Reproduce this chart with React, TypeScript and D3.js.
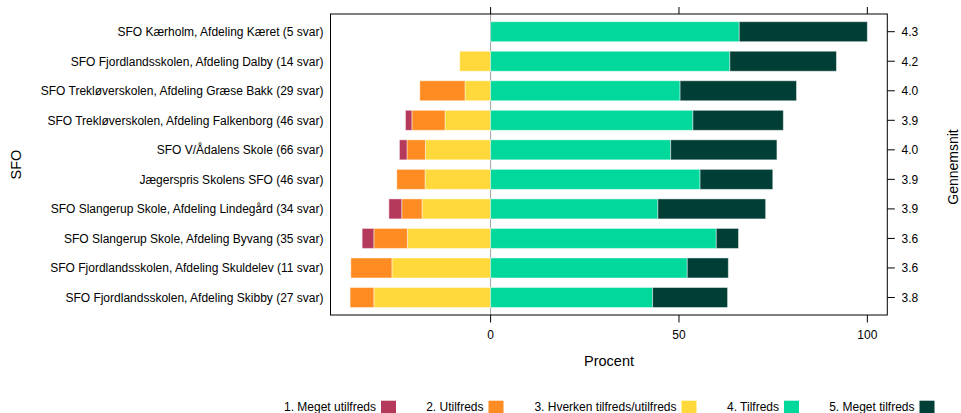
import React from "react";
import * as d3 from "d3";

const categories = [
  "SFO Kærholm, Afdeling Kæret (5 svar)",
  "SFO Fjordlandsskolen, Afdeling Dalby (14 svar)",
  "SFO Trekløverskolen, Afdeling Græse Bakk (29 svar)",
  "SFO Trekløverskolen, Afdeling Falkenborg (46 svar)",
  "SFO V/Ådalens Skole (66 svar)",
  "Jægerspris Skolens SFO (46 svar)",
  "SFO Slangerup Skole, Afdeling Lindegård (34 svar)",
  "SFO Slangerup Skole, Afdeling Byvang (35 svar)",
  "SFO Fjordlandsskolen, Afdeling Skuldelev (11 svar)",
  "SFO Fjordlandsskolen, Afdeling Skibby (27 svar)",
];

const megetUtilfreds = [0, 0, 0, 1.7, 2.0, 0, 3.4, 3.1, 0, 0];
const utilfreds = [0, 0, 12.0, 8.8, 4.9, 7.5, 5.4, 8.9, 10.9, 6.3];
const hverken = [0, 8.2, 6.8, 12.1, 17.3, 17.4, 18.2, 22.1, 26.2, 31.0];
const tilfreds = [66.0, 63.5, 50.3, 53.7, 47.8, 55.6, 44.4, 59.9, 52.2, 43.0];
const megetTilfreds = [34.0, 28.3, 30.9, 24.0, 28.2, 19.3, 28.6, 5.9, 10.9, 19.9];

const gennemsnit = ["4.3", "4.2", "4.0", "3.9", "4.0", "3.9", "3.9", "3.6", "3.6", "3.8"];

const levelLabels = [
  "1. Meget utilfreds",
  "2. Utilfreds",
  "3. Hverken tilfreds/utilfreds",
  "4. Tilfreds",
  "5. Meget tilfreds",
];
const levelColors = ["#B5395B", "#FF8C22", "#FFD93B", "#00D89C", "#003E36"];

const xTicks = [0, 50, 100];

const FONT = "'Liberation Sans', Arial, Helvetica, sans-serif";

export default function App() {
  const W = 961;
  const H = 413;
  const left = 330.5;
  const right = 887.3;
  const top = 14;
  const bottom = 315;

  const x = d3.scaleLinear().domain([-42.5, 105.3]).range([left, right]);
  const y = d3.scaleLinear().domain([0, categories.length - 1]).range([31.7, 297.5]);
  const barH = 20;

  const neg = [megetUtilfreds, utilfreds, hverken];
  const pos = [tilfreds, megetTilfreds];

  const bars: any[] = [];
  categories.forEach((_, i) => {
    // negative side: hverken closest to zero, then utilfreds, then meget utilfreds
    let acc = 0;
    for (let k = 2; k >= 0; k--) {
      const v = neg[k][i];
      if (v > 0) {
        bars.push({ i, k, x0: -(acc + v), x1: -acc });
      }
      acc += v;
    }
    acc = 0;
    for (let k = 0; k < 2; k++) {
      const v = pos[k][i];
      if (v > 0) {
        bars.push({ i, k: k + 3, x0: acc, x1: acc + v });
      }
      acc += v;
    }
  });

  const legendSquares = [381, 488.5, 681.5, 784, 919.5];

  return (
    <svg
      width={W}
      height={H}
      style={{ position: "absolute", left: 0, top: 0, background: "#fff" }}
      fontFamily={FONT}
    >
      <rect x={0} y={0} width={W} height={H} fill="#fff" />
      {/* zero reference line */}
      <line x1={x(0)} x2={x(0)} y1={top} y2={bottom} stroke="#A0A0A0" strokeWidth={1} />
      {/* bars */}
      {bars.map((b, j) => (
        <rect
          key={j}
          x={x(b.x0)}
          y={y(b.i) - barH / 2}
          width={x(b.x1) - x(b.x0)}
          height={barH}
          fill={levelColors[b.k]}
          stroke="rgba(255,255,255,0.45)"
          strokeWidth={1}
        />
      ))}
      {/* frame */}
      <rect x={left} y={top} width={right - left} height={bottom - top} fill="none" stroke="#000" strokeWidth={1} />
      {/* top & bottom ticks */}
      {xTicks.map((t) => (
        <g key={t}>
          <line x1={x(t)} x2={x(t)} y1={top} y2={top - 7} stroke="#000" />
          <line x1={x(t)} x2={x(t)} y1={bottom} y2={bottom + 7.5} stroke="#000" />
          <text x={x(t)} y={339.3} textAnchor="middle" fontSize={12} fill="#000">
            {t}
          </text>
        </g>
      ))}
      {/* left category labels */}
      {categories.map((c, i) => (
        <text key={c} x={323.5} y={y(i)} dy="0.36em" textAnchor="end" fontSize={12} fill="#000">
          {c}
        </text>
      ))}
      {/* right ticks and labels */}
      {gennemsnit.map((g, i) => (
        <g key={i}>
          <line x1={right} x2={right + 7.5} y1={y(i)} y2={y(i)} stroke="#000" />
          <text x={901.5} y={y(i)} dy="0.36em" fontSize={12} fill="#000">
            {g}
          </text>
        </g>
      ))}
      {/* axis titles */}
      <text x={609} y={365.5} textAnchor="middle" fontSize={14.5} fill="#000">
        Procent
      </text>
      <text
        transform={`translate(20.5,164.5) rotate(-90)`}
        textAnchor="middle"
        fontSize={14.5}
        fill="#000"
      >
        SFO
      </text>
      <text
        transform={`translate(958.3,167) rotate(-90)`}
        textAnchor="middle"
        fontSize={14}
        fill="#000"
      >
        Gennemsnit
      </text>
      {/* legend */}
      {levelLabels.map((l, k) => (
        <g key={l}>
          <text x={legendSquares[k] - 5} y={411} textAnchor="end" fontSize={12} fill="#000">
            {l}
          </text>
          <rect x={legendSquares[k]} y={400.7} width={15} height={15} fill={levelColors[k]} />
        </g>
      ))}
    </svg>
  );
}
